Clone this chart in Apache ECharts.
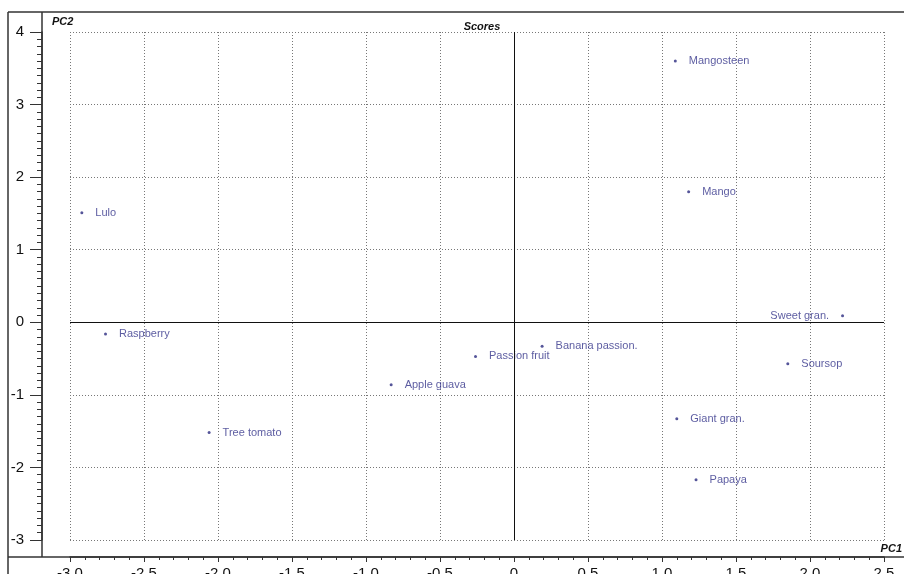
<!DOCTYPE html>
<html>
<head>
<meta charset="utf-8">
<script src="https://cdn.jsdelivr.net/npm/echarts@6/dist/echarts.min.js"></script>
<style>html,body{margin:0;padding:0;background:#fff;}#c{width:904px;height:574px;}</style>
</head>
<body>
<div id="c"></div>
<script>
const names = ['Mangosteen','Mango','Lulo','Raspberry','Apple guava','Passion fruit','Banana passion.','Sweet gran.','Soursop','Giant gran.','Papaya','Tree tomato'];
const pc1 = [1.09, 1.18, -2.92, -2.76, -0.83, -0.26, 0.19, 2.22, 1.85, 1.10, 1.23, -2.06];
const pc2 = [3.60, 1.80, 1.51, -0.16, -0.86, -0.47, -0.33, 0.09, -0.57, -1.33, -2.17, -1.52];
const xTicks = [-3.0, -2.5, -2.0, -1.5, -1.0, -0.5, 0, 0.5, 1.0, 1.5, 2.0, 2.5];
const yTicks = [-3, -2, -1, 0, 1, 2, 3, 4];

const chart = echarts.init(document.getElementById('c'), null, {renderer: 'canvas'});
const labelColor = '#33338a';
const data = names.map((n, i) => {
  const d = {name: n, value: [pc1[i], pc2[i]]};
  if (n === 'Sweet gran.') d.label = {position: 'left'};
  return d;
});
const font = 'Liberation Sans, Arial, sans-serif';
const option = {
  animation: false,
  backgroundColor: '#fff',
  title: {
    text: 'Scores', left: 477, top: 16, textAlign: 'center',
    textStyle: {fontSize: 11, fontStyle: 'italic', fontWeight: 'bold', color: '#111', fontFamily: font}
  },
  grid: {left: 70, top: 32, right: 20, bottom: 34, containLabel: false, outerBoundsMode: 'none'},
  xAxis: {
    type: 'value', min: xTicks[0], max: xTicks[xTicks.length - 1], interval: 0.5,
    offset: 17,
    axisLine: {show: true, onZero: false, lineStyle: {color: '#333', width: 1.5}},
    axisTick: {show: true, inside: false, length: 5, lineStyle: {color: '#333'}},
    minorTick: {show: true, splitNumber: 5, length: 3, lineStyle: {color: '#333'}},
    axisLabel: {margin: 9, fontSize: 15, color: '#111', fontFamily: font,
      formatter: v => (v === 0 ? '0' : v.toFixed(1))},
    splitLine: {show: true, lineStyle: {color: '#777', type: [1, 2], width: 1}}
  },
  yAxis: {
    type: 'value', min: yTicks[0], max: yTicks[yTicks.length - 1], interval: 1,
    offset: 28,
    axisLine: {show: true, onZero: false, lineStyle: {color: '#333', width: 1.5}},
    axisTick: {show: true, inside: false, length: 12, lineStyle: {color: '#333'}},
    minorTick: {show: true, splitNumber: 10, length: 5, lineStyle: {color: '#333'}},
    axisLabel: {margin: 18, fontSize: 15, color: '#111', fontFamily: font},
    splitLine: {show: true, lineStyle: {color: '#777', type: [1, 2], width: 1}}
  },
  series: [{
    type: 'scatter',
    symbol: 'circle',
    symbolSize: 3,
    itemStyle: {color: '#2a2a80'},
    label: {show: true, position: 'right', distance: 12, formatter: '{b}',
      color: labelColor, fontSize: 11, fontFamily: font},
    data: data,
    markLine: {
      silent: true, symbol: 'none', animation: false,
      label: {show: false},
      lineStyle: {color: '#111', type: 'solid', width: 1},
      data: [{xAxis: 0}, {yAxis: 0}]
    }
  }],
  graphic: [
    {type: 'line', shape: {x1: 8, y1: 12, x2: 904, y2: 12}, style: {stroke: '#333', lineWidth: 1.5}},
    {type: 'line', shape: {x1: 8, y1: 12, x2: 8, y2: 574}, style: {stroke: '#333', lineWidth: 1.5}},
    {type: 'line', shape: {x1: 8, y1: 557, x2: 904, y2: 557}, style: {stroke: '#333', lineWidth: 1.5}},
    {type: 'line', shape: {x1: 42, y1: 12, x2: 42, y2: 557}, style: {stroke: '#333', lineWidth: 1.5}},
    {type: 'text', left: 52, top: 16, style: {text: 'PC2', fontSize: 11, fontStyle: 'italic', fontWeight: 'bold', fill: '#111', fontFamily: font}},
    {type: 'text', right: 2, top: 543, style: {text: 'PC1', fontSize: 11, fontStyle: 'italic', fontWeight: 'bold', fill: '#111', fontFamily: font}}
  ]
};
chart.setOption(option);
</script>
</body>
</html>
